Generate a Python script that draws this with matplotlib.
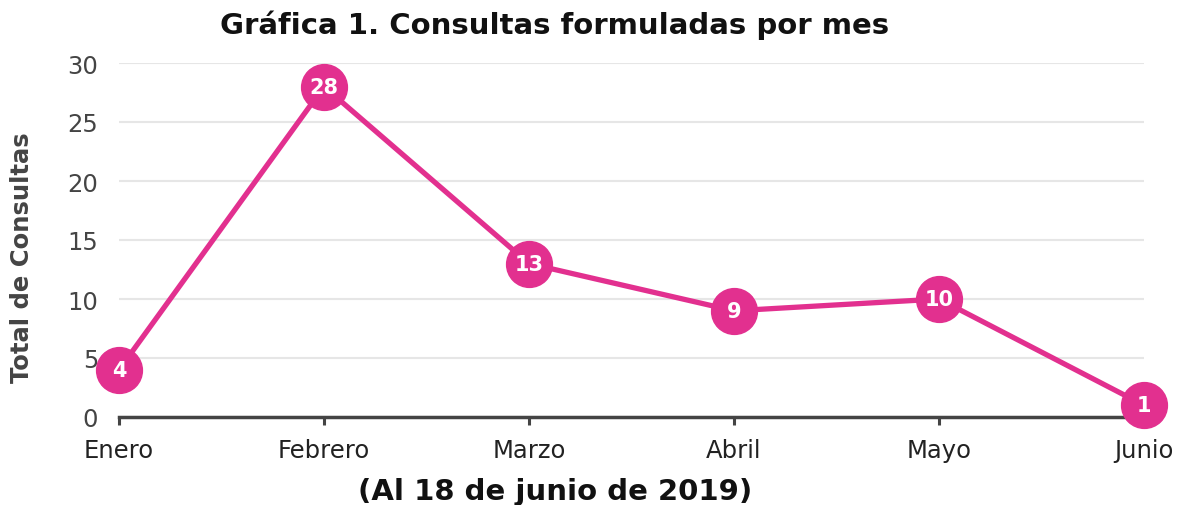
import matplotlib
matplotlib.use("Agg")
import matplotlib.pyplot as plt

plt.rcParams["font.family"] = ["DejaVu Sans"]

months = ["Enero", "Febrero", "Marzo", "Abril", "Mayo", "Junio"]
consultas = [4, 28, 13, 9, 10, 1]
yticks = [0, 5, 10, 15, 20, 25, 30]

W, H = 1186, 506
fig = plt.figure(figsize=(W / 100, H / 100), dpi=100)
ax = fig.add_axes([119 / W, (H - 418) / H, (1144 - 119) / W, (418 - 64) / H])

color = "#E2308F"
x = list(range(len(months)))
ax.plot(x, consultas, color=color, lw=3.8, marker="o", ms=33, mec=color,
        mfc=color, clip_on=False, zorder=3, solid_capstyle="round")
for xi, v in zip(x, consultas):
    ax.text(xi, v, str(v), ha="center", va="center", color="white",
            fontsize=15, fontweight="bold", zorder=4)

ax.set_xlim(0, len(months) - 1)
ax.set_ylim(0, 30)
ax.set_xticks(x)
ax.set_xticklabels(months, fontsize=17.5, color="#222222")
ax.set_yticks(yticks)
ax.set_yticklabels([str(t) for t in yticks], fontsize=17.5, color="#444444")
ax.tick_params(axis="y", length=0, pad=15)
ax.tick_params(axis="x", length=6, width=2.2, color="#444444", pad=9)
ax.grid(axis="y", color="#e6e6e6", lw=1.5)
ax.set_axisbelow(True)
for s in ["top", "right", "left"]:
    ax.spines[s].set_visible(False)
ax.spines["bottom"].set_color("#444444")
ax.spines["bottom"].set_linewidth(2.5)
ax.spines["bottom"].set_zorder(2)

fig.text(555 / W, 1 - 25 / H, "Gráfica 1. Consultas formuladas por mes",
         ha="center", va="center", fontsize=21, fontweight="bold", color="#111111")
fig.text(555 / W, 1 - 492 / H, "(Al 18 de junio de 2019)",
         ha="center", va="center", fontsize=21, fontweight="bold", color="#111111")
fig.text(22 / W, 1 - 258 / H, "Total de Consultas", rotation=90,
         ha="center", va="center", fontsize=17.5, fontweight="bold", color="#444444")

fig.savefig("out.png", dpi=100)
